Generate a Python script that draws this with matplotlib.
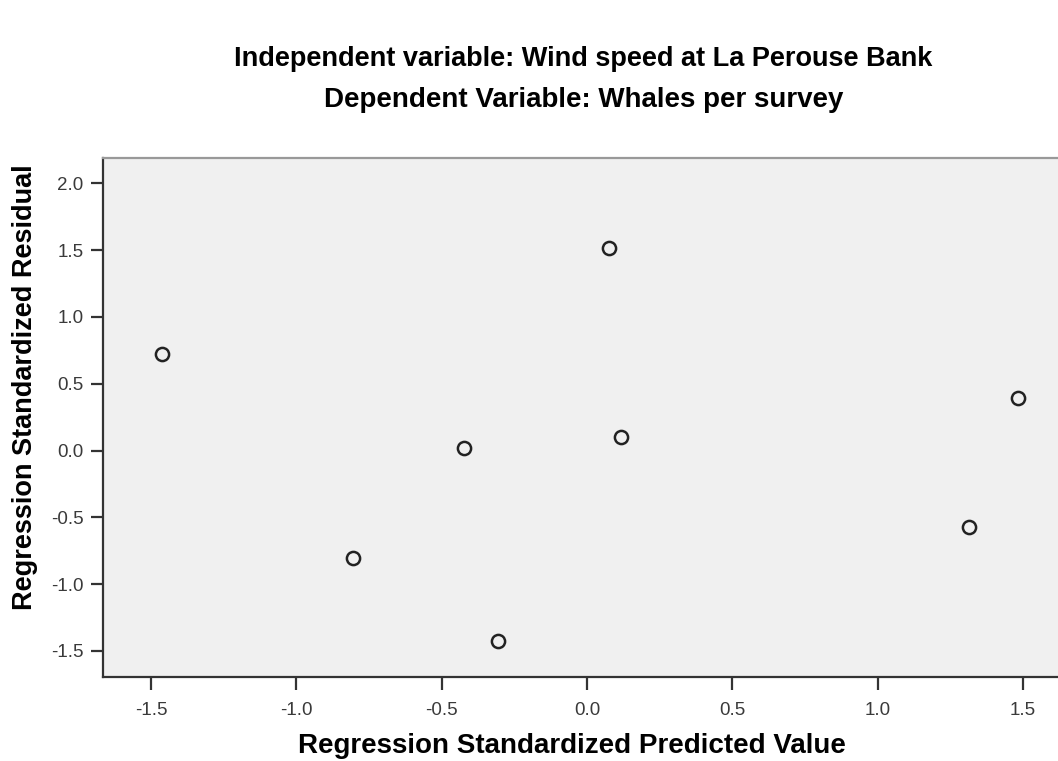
import matplotlib.pyplot as plt

# Valores (residuos estandarizados vs. valores predichos)
predicho = [-1.462, 0.077, -0.424, 0.116, 1.482, -0.806, -0.305, 1.313]
residuo = [0.722, 1.516, 0.018, 0.100, 0.397, -0.806, -1.425, -0.569]

xticks = [-1.5, -1.0, -0.5, 0.0, 0.5, 1.0, 1.5]
yticks = [-1.5, -1.0, -0.5, 0.0, 0.5, 1.0, 1.5, 2.0]

plt.rcParams['font.family'] = ['Liberation Sans', 'DejaVu Sans']

fig = plt.figure(figsize=(10.58, 7.61), dpi=100)
ax = fig.add_axes([0.0974, 0.1104, 0.9026, 0.682])
ax.set_facecolor('#f0f0f0')

ax.plot(predicho, residuo, linestyle='none', marker='o', markersize=9.5,
        markerfacecolor='none', markeredgecolor='#222222', markeredgewidth=1.8)

ax.set_xlim(-1.665, 1.62)
ax.set_ylim(-1.695, 2.19)
ax.set_xticks(xticks)
ax.set_yticks(yticks)
ax.set_xticklabels([f'{v:.1f}' for v in xticks])
ax.set_yticklabels([f'{v:.1f}' for v in yticks])
ax.tick_params(direction='out', length=9, width=1.6, color='#333333',
               labelsize=13.5, labelcolor='#3a3a3a')
ax.tick_params(axis='x', pad=9)
ax.tick_params(axis='y', pad=5)

for s in ['left', 'bottom']:
    ax.spines[s].set_color('#333333')
    ax.spines[s].set_linewidth(1.6)
ax.spines['top'].set_color('#999999')
ax.spines['top'].set_linewidth(1.6)
ax.spines['right'].set_visible(False)

ax.set_xlabel('Regression Standardized Predicted Value', fontsize=20,
              fontweight='bold')
ax.set_ylabel('Regression Standardized Residual', fontsize=19.5,
              fontweight='bold')
ax.xaxis.set_label_coords(0.491, -0.133)
ax.xaxis.label.set_va('center')
ax.yaxis.set_label_coords(-0.082, 0.559)
ax.yaxis.label.set_va('center')

fig.text(0.551, 0.923, 'Independent variable: Wind speed at La Perouse Bank',
         ha='center', va='center', fontsize=19.5, fontweight='bold')
fig.text(0.552, 0.868, 'Dependent Variable: Whales per survey',
         ha='center', va='center', fontsize=20, fontweight='bold')

fig.savefig('out.png', dpi=100)
